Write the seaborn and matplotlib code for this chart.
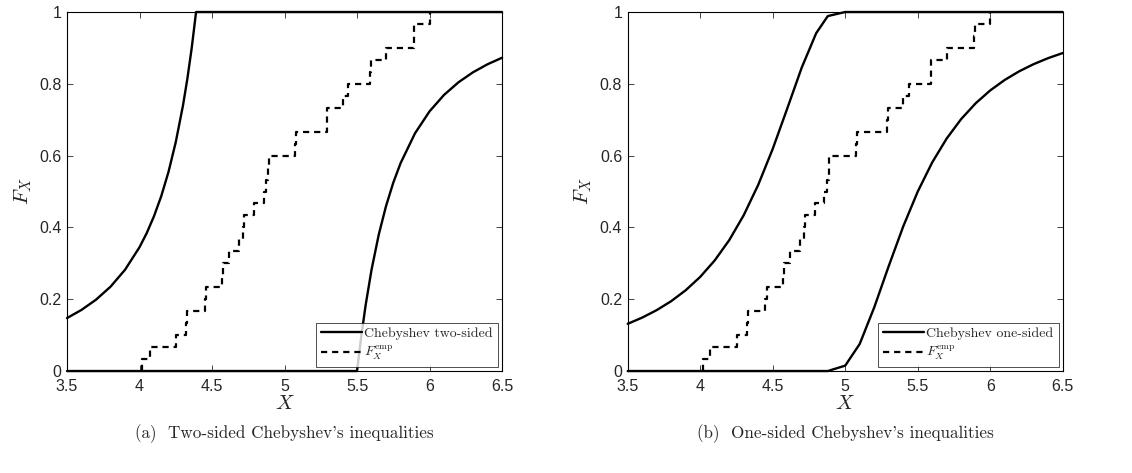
import numpy as np
import matplotlib
matplotlib.use('Agg')
import matplotlib.pyplot as plt
import seaborn as sns

samples = [4.02, 4.07, 4.255, 4.32, 4.33, 4.45, 4.46, 4.57, 4.575, 4.62,
           4.685, 4.715, 4.72, 4.79, 4.855, 4.875, 4.885, 4.89, 5.075, 5.08,
           5.29, 5.295, 5.40, 5.44, 5.59, 5.595, 5.70, 5.89, 5.895, 6.00]

# two-sided Chebyshev bounds
two_upper_x = [3.5, 3.6, 3.7, 3.8, 3.9, 4.0, 4.05, 4.1, 4.15, 4.2, 4.25, 4.3, 4.33, 4.36, 4.39, 6.5]
two_upper_f = [0.1475, 0.1703, 0.1987, 0.2349, 0.2820, 0.3449, 0.3845, 0.4314, 0.4873,
               0.5549, 0.6377, 0.7403, 0.8143, 0.900, 1.0, 1.0]
two_lower_x = [3.5, 5.5, 5.53, 5.56, 5.6, 5.65, 5.7, 5.75, 5.8, 5.9, 6.0, 6.1, 6.2, 6.3, 6.4, 6.5]
two_lower_f = [0.0, 0.0, 0.0994, 0.1852, 0.2821, 0.3803, 0.4596, 0.5247, 0.5787, 0.6623,
               0.7233, 0.7691, 0.8044, 0.8322, 0.8545, 0.8726]

# one-sided (Cantelli) bounds
one_upper_x = [3.5, 3.6, 3.7, 3.8, 3.9, 4.0, 4.1, 4.2, 4.3, 4.4, 4.5, 4.6, 4.7, 4.8, 4.88, 5.0, 6.5]
one_upper_f = [0.1315, 0.1488, 0.1696, 0.1946, 0.2250, 0.2622, 0.3080, 0.3644, 0.4339,
               0.5185, 0.6186, 0.7309, 0.8450, 0.9412, 0.9887, 1.0, 1.0]
one_lower_x = [3.5, 4.88, 5.0, 5.1, 5.2, 5.3, 5.4, 5.5, 5.6, 5.7, 5.8, 5.9, 6.0, 6.1, 6.2, 6.3, 6.4, 6.5]
one_lower_f = [0.0, 0.0, 0.015, 0.0754, 0.1771, 0.2922, 0.4026, 0.4997, 0.5811, 0.6478,
               0.7020, 0.7459, 0.7816, 0.8108, 0.8349, 0.8549, 0.8716, 0.8857]

xticks = [3.5, 4, 4.5, 5, 5.5, 6, 6.5]
xtick_labels = ['3.5', '4', '4.5', '5', '5.5', '6', '6.5']
yticks = [0, 0.2, 0.4, 0.6, 0.8, 1]
ytick_labels = ['0', '0.2', '0.4', '0.6', '0.8', '1']

panels = [
    ('Chebyshev two-sided', two_upper_x, two_upper_f, two_lower_x, two_lower_f,
     "(a)  Two-sided Chebyshev's inequalities"),
    ('Chebyshev one-sided', one_upper_x, one_upper_f, one_lower_x, one_lower_f,
     "(b)  One-sided Chebyshev's inequalities"),
]

sns.set_style('ticks')
plt.rcParams['font.family'] = ['Liberation Sans', 'DejaVu Sans']
plt.rcParams['mathtext.fontset'] = 'cm'
plt.rcParams['axes.linewidth'] = 0.8

fig = plt.figure(figsize=(11.32, 4.73), dpi=100)
lefts = [0.0592, 0.5545]

for left, (name, ux, uf, lx, lf, caption) in zip(lefts, panels):
    ax = fig.add_axes([left, 0.2156, 0.3843, 0.759])
    sns.lineplot(x=ux, y=uf, ax=ax, color='black', lw=1.7, label=name, clip_on=False)
    sns.lineplot(x=lx, y=lf, ax=ax, color='black', lw=1.7, label='_nolegend_', clip_on=False)
    sns.ecdfplot(x=samples, ax=ax, color='black', lw=1.6, dashes=(2.8, 2.2),
                 label=r'$F_X^{\mathrm{emp}}$')

    ax.set_xlim(3.5, 6.5)
    ax.set_ylim(0, 1)
    ax.set_xticks(xticks, xtick_labels)
    ax.set_yticks(yticks, ytick_labels)
    ax.tick_params(direction='in', length=4, width=0.6, labelsize=11.5,
                   top=True, right=True)
    ax.tick_params(axis='x', pad=6)
    ax.tick_params(axis='y', pad=4)
    for s in ax.spines.values():
        s.set_color('black')
        s.set_linewidth(0.8)
    ax.set_xlabel('$X$', fontsize=15, labelpad=0)
    ax.set_ylabel('$F_X$', fontsize=15, labelpad=4)

    leg = ax.legend(loc='lower right', frameon=True, fancybox=False,
                    borderaxespad=0.3, handlelength=3.0, handletextpad=0.15,
                    borderpad=0.35, labelspacing=0.25,
                    prop={'family': 'cmr10', 'size': 10})
    leg.get_frame().set_edgecolor('black')
    leg.get_frame().set_linewidth(0.6)

    fig.text(left + 0.3843 / 2, 0.083, caption, ha='center', va='center',
             family='cmr10', fontsize=12.3)

fig.savefig('out.png', dpi=100)
